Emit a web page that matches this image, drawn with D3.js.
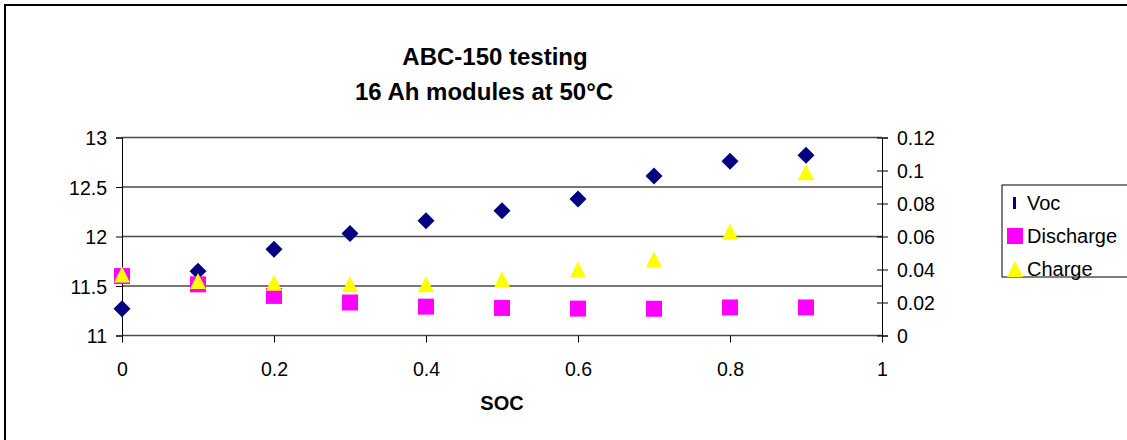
<!DOCTYPE html>
<html>
<head>
<meta charset="utf-8">
<script src="https://cdn.jsdelivr.net/npm/d3@7"></script>
<style>
  html, body { margin: 0; padding: 0; background: #fff; }
  svg { display: block; font-family: "Liberation Sans", Arial, sans-serif; }
</style>
</head>
<body>
<svg id="chart" width="1127" height="440"></svg>
<script>
// ---- data ----
const soc = [0, 0.1, 0.2, 0.3, 0.4, 0.5, 0.6, 0.7, 0.8, 0.9];
const voc = [11.27, 11.65, 11.87, 12.03, 12.16, 12.26, 12.38, 12.61, 12.76, 12.82];
const discharge = [0.036, 0.031, 0.024, 0.020, 0.0175, 0.0167, 0.0163, 0.0162, 0.017, 0.017];
const charge = [0.037, 0.033, 0.032, 0.031, 0.031, 0.034, 0.040, 0.046, 0.063, 0.099];
const leftTicks = [11, 11.5, 12, 12.5, 13];
const rightTicks = [0, 0.02, 0.04, 0.06, 0.08, 0.1, 0.12];
const xTicks = [0, 0.2, 0.4, 0.6, 0.8, 1];
const titleLines = ["ABC-150 testing", "16 Ah modules at 50°C"];
const xLabel = "SOC";
const seriesNames = ["Voc", "Discharge", "Charge"];

const svg = d3.select("#chart");
const FONT = 19.5;

// outer chart border
svg.append("rect").attr("x", 5).attr("y", 5).attr("width", 1140).attr("height", 450)
  .attr("fill", "#fff").attr("stroke", "#000").attr("stroke-width", 2);

const x = d3.scaleLinear().domain([0, 1]).range([122, 882]);
const yL = d3.scaleLinear().domain([11, 13]).range([335.5, 137.5]);
const yR = d3.scaleLinear().domain([0, 0.12]).range([335.5, 137.5]);

// gridlines
svg.append("g").selectAll("line").data(leftTicks).join("line")
  .attr("x1", x(0)).attr("x2", x(1))
  .attr("y1", d => yL(d)).attr("y2", d => yL(d))
  .attr("stroke", "#4a4a4a").attr("stroke-width", 1.6);

// left axis
const gL = svg.append("g").attr("transform", `translate(${x(0)},0)`)
  .call(d3.axisLeft(yL).tickValues(leftTicks).tickSize(6).tickPadding(9).tickFormat(d => String(d)));
// right axis
const gR = svg.append("g").attr("transform", `translate(${x(1)},0)`)
  .call(d3.axisRight(yR).tickValues(rightTicks).tickSize(6).tickPadding(9).tickFormat(d => String(d)));
gR.selectAll(".tick line").attr("x1", -5);
// bottom axis
const gB = svg.append("g").attr("transform", `translate(0,${yL(11)})`)
  .call(d3.axisBottom(x).tickValues(xTicks).tickSize(7).tickPadding(20).tickFormat(d => String(d)));
gB.select(".domain").remove();

[gL, gR, gB].forEach(g => {
  g.selectAll("text").attr("font-size", FONT).attr("fill", "#000")
    .attr("font-family", "Liberation Sans, Arial, sans-serif");
  g.selectAll("line").attr("stroke", "#000");
  g.select(".domain").attr("stroke", "#000");
});
gL.selectAll("text").attr("dy", "0.36em");
gR.selectAll("text").attr("dy", "0.36em");

// custom symbols
const diamondType = { draw(ctx, size) { const r = Math.sqrt(size) / 2;
  ctx.moveTo(0, -r); ctx.lineTo(r, 0); ctx.lineTo(0, r); ctx.lineTo(-r, 0); ctx.closePath(); } };
const triType = { draw(ctx, size) { const r = Math.sqrt(size) / 2;
  ctx.moveTo(0, -r); ctx.lineTo(r, r); ctx.lineTo(-r, r); ctx.closePath(); } };

const diamond = d3.symbol().type(diamondType).size(17 * 17)();
const square = d3.symbol().type(d3.symbolSquare).size(16 * 16)();
const tri = d3.symbol().type(triType).size(16 * 16)();

svg.append("g").selectAll("path").data(soc).join("path")
  .attr("d", diamond).attr("fill", "#000080")
  .attr("transform", (d, i) => `translate(${x(d)},${yL(voc[i])})`);
svg.append("g").selectAll("path").data(soc).join("path")
  .attr("d", square).attr("fill", "#ff00ff")
  .attr("transform", (d, i) => `translate(${x(d)},${yR(discharge[i])})`);
svg.append("g").selectAll("path").data(soc).join("path")
  .attr("d", tri).attr("fill", "#ffff00")
  .attr("transform", (d, i) => `translate(${x(d)},${yR(charge[i])})`);

// title
svg.append("text").attr("x", 495).attr("y", 65).attr("text-anchor", "middle")
  .attr("font-size", 24).attr("font-weight", "bold").text(titleLines[0]);
svg.append("text").attr("x", 484).attr("y", 100).attr("text-anchor", "middle")
  .attr("font-size", 24).attr("font-weight", "bold").text(titleLines[1]);

// x axis label
svg.append("text").attr("x", 502).attr("y", 410).attr("text-anchor", "middle")
  .attr("font-size", 20).attr("font-weight", "bold").text(xLabel);

// legend
const lg = svg.append("g");
lg.append("rect").attr("x", 1002).attr("y", 185).attr("width", 140).attr("height", 92)
  .attr("fill", "#fff").attr("stroke", "#000").attr("stroke-width", 1);
const rowY = [203, 236, 269];
lg.append("rect").attr("x", 1013).attr("y", rowY[0] - 6).attr("width", 3).attr("height", 12).attr("fill", "#000080");
lg.append("path").attr("d", square).attr("fill", "#ff00ff").attr("transform", `translate(1015,${rowY[1]})`);
lg.append("path").attr("d", tri).attr("fill", "#ffff00").attr("transform", `translate(1015,${rowY[2]})`);
lg.selectAll("text.lt").data(seriesNames).join("text").attr("class", "lt")
  .attr("x", 1027).attr("y", (d, i) => rowY[i]).attr("dy", "0.36em")
  .attr("font-size", 20).text(d => d);
</script>
</body>
</html>
